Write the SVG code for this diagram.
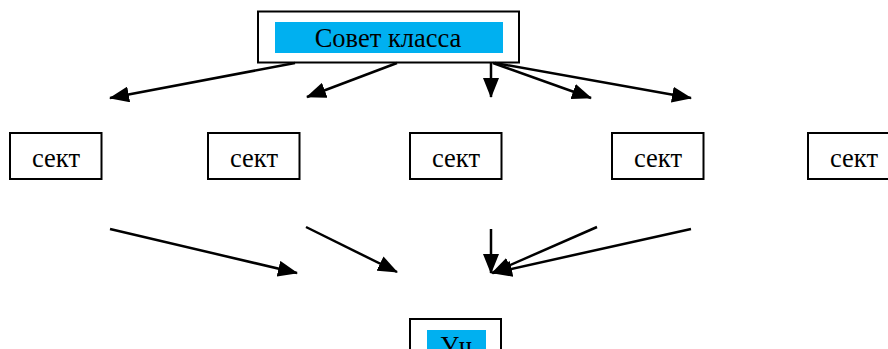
<svg xmlns="http://www.w3.org/2000/svg" width="888" height="349" viewBox="0 0 888 349">
<style>
.box{fill:#fff;stroke:#000;stroke-width:2}
.hl{fill:#00b0f0}
.t{font-family:"Liberation Serif","Times New Roman",serif;font-size:26.5px;fill:#000;text-anchor:middle}
.c{stroke:#000;stroke-width:2.5;fill:none;marker-end:url(#ah)}
</style>
<defs>
<marker id="ah" markerUnits="userSpaceOnUse" markerWidth="20" markerHeight="16" viewBox="0 0 20 16" refX="19" refY="8" orient="auto">
<path d="M0,0 L20,8 L0,16 Z" fill="#000"/>
</marker>
</defs>
<rect width="888" height="349" fill="#fff"/>
<g id="council">
<rect class="box" x="258" y="11.5" width="261" height="51"/>
<rect class="hl" x="275" y="22" width="228" height="31"/>
<text class="t" x="388" y="47">Совет класса</text>
</g>
<g id="sekt1"><rect class="box" x="10" y="133" width="91.5" height="46"/><text class="t" x="56" y="167">сект</text></g>
<g id="sekt2"><rect class="box" x="208" y="133" width="91.5" height="46"/><text class="t" x="254" y="167">сект</text></g>
<g id="sekt3"><rect class="box" x="410" y="133" width="91.5" height="46"/><text class="t" x="456" y="167">сект</text></g>
<g id="sekt4"><rect class="box" x="612" y="133" width="91.5" height="46"/><text class="t" x="658" y="167">сект</text></g>
<g id="sekt5"><rect class="box" x="808" y="133" width="91.5" height="46"/><text class="t" x="854" y="167">сект</text></g>
<g id="bottom">
<rect class="box" x="410" y="319" width="91" height="46"/>
<rect class="hl" x="427" y="330" width="59" height="30"/>
<text class="t" x="456" y="355">Уч</text>
</g>
<g id="connectors">
<line class="c" x1="295" y1="63" x2="110" y2="98"/>
<line class="c" x1="397" y1="63" x2="307" y2="97"/>
<line class="c" x1="491" y1="63" x2="491" y2="97"/>
<line class="c" x1="493" y1="63" x2="591" y2="98"/>
<line class="c" x1="495" y1="63" x2="691" y2="98"/>
<line class="c" x1="110" y1="229" x2="297" y2="273"/>
<line class="c" x1="306" y1="227" x2="397" y2="272"/>
<line class="c" x1="491" y1="229" x2="491" y2="273"/>
<line class="c" x1="597" y1="227" x2="492" y2="273"/>
<line class="c" x1="691" y1="229" x2="493" y2="273"/>
</g>
</svg>
